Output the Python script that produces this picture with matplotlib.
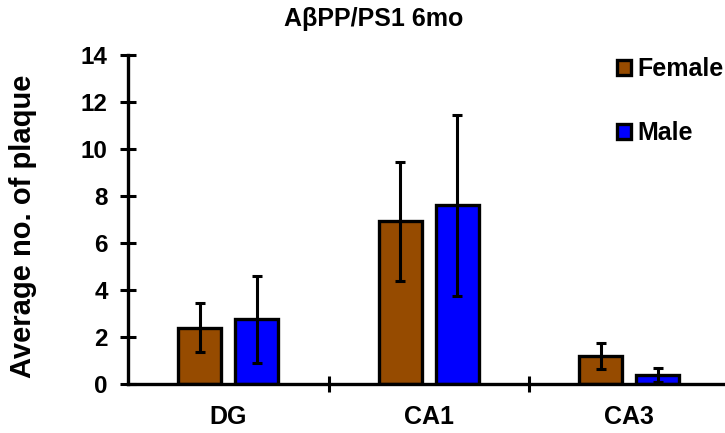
import matplotlib
matplotlib.use("Agg")
import matplotlib.pyplot as plt
from matplotlib.patches import Patch
import numpy as np

categories = ["DG", "CA1", "CA3"]
female_mean = [2.40, 6.92, 1.19]
female_err = [1.03, 2.53, 0.57]
male_mean = [2.75, 7.60, 0.38]
male_err = [1.85, 3.85, 0.30]
yticks = [0, 2, 4, 6, 8, 10, 12, 14]

plt.rcParams['font.family'] = ['Liberation Sans', 'DejaVu Sans']
plt.rcParams['font.weight'] = 'bold'

W, H = 725, 433
fig = plt.figure(figsize=(W / 100, H / 100), dpi=100)
ax = fig.add_axes([128 / W, (H - 384) / H, (729.5 - 128) / W, (384 - 55) / H])

x = np.arange(len(categories))
bw = 0.215
off = 0.142
brown = "#964B00"
blue = "#0000FF"
err_kw = dict(ecolor="black", elinewidth=2.2, capsize=3.5, capthick=2.2)
ax.bar(x - off, female_mean, bw, color=brown, edgecolor="black", linewidth=2.4,
       yerr=female_err, error_kw=err_kw, label="Female", zorder=2)
ax.bar(x + off, male_mean, bw, color=blue, edgecolor="black", linewidth=2.4,
       yerr=male_err, error_kw=err_kw, label="Male", zorder=2)

ax.set_xlim(-0.5, 2.5)
ax.set_ylim(0, 14)
ax.set_yticks(yticks)
ax.set_yticklabels([str(v) for v in yticks], fontsize=17.5, fontweight='bold')
ax.set_xticks([0.5, 1.5, 2.5])
ax.set_xticklabels([])
ax.set_xticks(x, minor=True)
ax.set_xticklabels(categories, minor=True, fontsize=18, fontweight='bold')
ax.tick_params(axis='x', which='minor', length=0, pad=15)
ax.tick_params(axis='both', which='major', direction='inout', length=11, width=2.2)
ax.tick_params(axis='y', pad=9)

for s in ['top', 'right']:
    ax.spines[s].set_visible(False)
for s in ['left', 'bottom']:
    ax.spines[s].set_linewidth(2.4)
ax.spines['bottom'].set_zorder(3)

ax.set_ylabel("Average no. of plaque", fontsize=21, fontweight='bold')
ax.yaxis.set_label_coords(-0.152, 0.48)

fig.text(373.5 / W, 1 - 26 / H, "AβPP/PS1 6mo", ha='center', va='baseline',
         fontsize=18, fontweight='bold')

handles = [Patch(facecolor=brown, edgecolor='black', linewidth=2.4),
           Patch(facecolor=blue, edgecolor='black', linewidth=2.4)]
leg = fig.legend(handles, ["Female", "Male"], loc='upper left',
                 bbox_to_anchor=(617 / W, 1 - 57 / H), frameon=False,
                 handlelength=0.55, handleheight=0.55, handletextpad=0.25,
                 labelspacing=1.6, borderpad=0, borderaxespad=0,
                 prop={'size': 18, 'weight': 'bold'})

fig.savefig("out.png", dpi=100)
